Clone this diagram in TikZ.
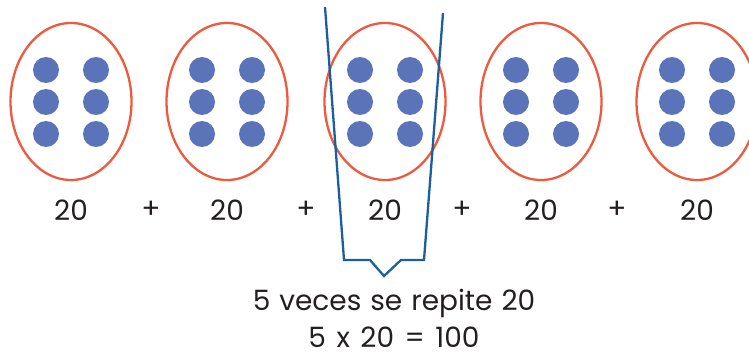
\documentclass[tikz,border=0pt]{standalone}
\usepackage{fontspec}
\setmainfont{Poppins}
\usetikzlibrary{shapes.geometric}
\definecolor{dotblue}{HTML}{5B73B9}
\definecolor{ringred}{HTML}{EC5A3F}
\definecolor{lineblue}{HTML}{1D5E9F}
\definecolor{txt}{HTML}{231F20}
\tikzset{
  ring/.style={ellipse, draw=ringred, line width=2.3pt, minimum width=121pt, minimum height=157pt, inner sep=0pt},
  dotc/.style={circle, fill=dotblue, minimum size=26pt, inner sep=0pt},
  numlab/.style={text=txt, font=\fontsize{28}{30}\selectfont, inner sep=0pt},
  bracketline/.style={draw=lineblue, line width=2.3pt, line join=miter}
}
\begin{document}
\begin{tikzpicture}[x=1pt,y=-1pt]
\useasboundingbox (0,0) rectangle (749,353);
\foreach \i/\cx in {1/71,2/227,3/385,4/541,5/697}{
  \node[ring] (e\i) at (\cx,101.5) {};
  \foreach \r/\ry in {1/70,2/102,3/134}{
    \node[dotc] (d\i a\r) at (\cx-25,\ry) {};
    \node[dotc] (d\i b\r) at (\cx+25,\ry) {};
  }
  \node[numlab] (n\i) at (\cx,210) {20};
}
\foreach \j/\px in {1/151,2/306,3/462,4/617}{
  \node[numlab] (p\j) at (\px,210) {+};
}
\coordinate (lt) at (325,7);
\coordinate (lb) at (344,260);
\coordinate (rt) at (443,13);
\coordinate (rb) at (424,260);
\coordinate (b1) at (370,260);
\coordinate (b2) at (384,276);
\coordinate (b3) at (401,260);
\draw[bracketline] (lt) -- (lb) -- (b1) -- (b2) -- (b3) -- (rb) -- (rt);
\node[numlab] (t1) at (394,303) {\spaceskip=9pt\relax 5 veces se repite 20};
\node[numlab] (t2) at (394,337) {\spaceskip=10.5pt\relax 5 x 20 = 100};
\end{tikzpicture}
\end{document}
